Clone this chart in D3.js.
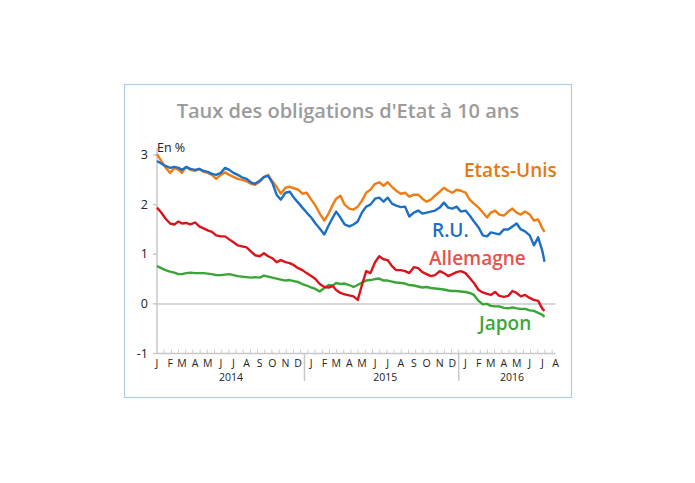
<!DOCTYPE html>
<html lang="fr">
<head>
<meta charset="utf-8">
<title>Taux des obligations d'Etat à 10 ans</title>
<script src="https://d3js.org/d3.v7.min.js"></script>
<style>
    body { margin: 0; background: white; }
    svg { display: block; font-family: "Open Sans", "Noto Sans", sans-serif; }
    .frame { fill: white; stroke: #a9cfee; stroke-width: 1.2; }
    .title { fill: #9b9b9b; font-size: 20px; font-weight: 600; }
    .axis-line { stroke: #c8c8c8; stroke-width: 1.5; }
    .tick-label { fill: #222; font-size: 12.5px; }
    .month { fill: #222; font-size: 10.5px; }
    .year { fill: #222; font-size: 10.5px; }
    .series { fill: none; stroke-width: 2.4; stroke-linejoin: round; }
    .series-label { font-size: 19px; font-weight: 600; }
</style>
</head>
<body>
<script>
// sampling grid: 1st, 11th and 21st of each month
var months = d3.timeMonth.range(new Date(2014, 0, 1), new Date(2016, 6, 1));
var dates = [];
months.forEach(function (m) {
    [1, 11, 21].forEach(function (d) { dates.push(new Date(m.getFullYear(), m.getMonth(), d)); });
});
dates.push(new Date(2016, 6, 1), new Date(2016, 6, 6));

var etatsUnis = [
    3.02, 2.88, 2.75, 2.64, 2.74, 2.70, 2.64, 2.76, 2.70, 2.68,
    2.72, 2.66, 2.64, 2.60, 2.52, 2.60, 2.65, 2.60, 2.56, 2.52,
    2.50, 2.47, 2.42, 2.40, 2.46, 2.55, 2.60, 2.47, 2.36, 2.22,
    2.34, 2.36, 2.33, 2.30, 2.22, 2.24, 2.10, 1.98, 1.82, 1.68,
    1.82, 2.00, 2.12, 2.18, 2.00, 1.92, 1.90, 1.96, 2.08, 2.24,
    2.30, 2.42, 2.45, 2.38, 2.45, 2.36, 2.28, 2.22, 2.24, 2.16,
    2.20, 2.20, 2.12, 2.06, 2.10, 2.18, 2.26, 2.34, 2.28, 2.24,
    2.30, 2.28, 2.24, 2.10, 2.02, 1.94, 1.84, 1.74, 1.84, 1.88,
    1.80, 1.78, 1.86, 1.92, 1.84, 1.80, 1.86, 1.80, 1.68, 1.70,
    1.52, 1.45
];
var royaumeUni = [
    2.88, 2.83, 2.78, 2.74, 2.76, 2.74, 2.70, 2.76, 2.72, 2.70,
    2.72, 2.68, 2.66, 2.62, 2.60, 2.64, 2.74, 2.70, 2.64, 2.60,
    2.55, 2.52, 2.45, 2.42, 2.48, 2.56, 2.58, 2.44, 2.20, 2.10,
    2.24, 2.26, 2.14, 2.04, 1.94, 1.84, 1.74, 1.62, 1.52, 1.40,
    1.58, 1.74, 1.86, 1.74, 1.60, 1.56, 1.60, 1.66, 1.84, 1.96,
    2.00, 2.12, 2.14, 2.06, 2.14, 2.02, 1.98, 1.95, 1.96, 1.76,
    1.84, 1.88, 1.82, 1.84, 1.86, 1.88, 1.94, 2.04, 1.94, 1.92,
    1.96, 1.86, 1.88, 1.78, 1.66, 1.54, 1.38, 1.36, 1.44, 1.42,
    1.40, 1.50, 1.50, 1.56, 1.62, 1.50, 1.46, 1.38, 1.18, 1.34,
    1.06, 0.85
];
var allemagne = [
    1.94, 1.84, 1.72, 1.62, 1.60, 1.66, 1.62, 1.63, 1.60, 1.64,
    1.56, 1.52, 1.48, 1.45, 1.38, 1.36, 1.36, 1.30, 1.24, 1.18,
    1.16, 1.14, 1.06, 0.98, 0.96, 1.02, 0.96, 0.92, 0.84, 0.88,
    0.84, 0.82, 0.78, 0.72, 0.68, 0.62, 0.56, 0.50, 0.40, 0.34,
    0.33, 0.36, 0.28, 0.22, 0.19, 0.17, 0.15, 0.08, 0.38, 0.66,
    0.62, 0.84, 0.96, 0.90, 0.88, 0.76, 0.68, 0.68, 0.66, 0.62,
    0.74, 0.72, 0.64, 0.60, 0.56, 0.58, 0.66, 0.62, 0.56, 0.60,
    0.64, 0.66, 0.62, 0.52, 0.42, 0.28, 0.23, 0.20, 0.18, 0.24,
    0.16, 0.14, 0.16, 0.26, 0.22, 0.15, 0.18, 0.12, 0.08, 0.06,
    -0.10, -0.14
];
var japon = [
    0.76, 0.72, 0.68, 0.65, 0.63, 0.60, 0.60, 0.62, 0.63, 0.62,
    0.62, 0.62, 0.61, 0.60, 0.58, 0.58, 0.59, 0.60, 0.58, 0.56,
    0.55, 0.54, 0.53, 0.54, 0.53, 0.57, 0.55, 0.53, 0.51, 0.49,
    0.47, 0.48, 0.46, 0.44, 0.40, 0.37, 0.33, 0.30, 0.25, 0.32,
    0.38, 0.37, 0.42, 0.40, 0.41, 0.38, 0.34, 0.38, 0.43, 0.47,
    0.48, 0.50, 0.51, 0.47, 0.47, 0.45, 0.43, 0.42, 0.41, 0.38,
    0.37, 0.35, 0.33, 0.34, 0.32, 0.31, 0.30, 0.29, 0.27, 0.26,
    0.26, 0.25, 0.24, 0.22, 0.18, 0.06, -0.01, 0.00, -0.04, -0.05,
    -0.05, -0.08, -0.09, -0.07, -0.09, -0.10, -0.10, -0.13, -0.14, -0.18,
    -0.22, -0.26
];

var yTicks = [3, 2, 1, 0, -1];
var monthLetters = ["J", "F", "M", "A", "M", "J", "J", "A", "S", "O", "N", "D"];
var years = [2014, 2015, 2016];

var series = [
    { name: "Etats-Unis", values: etatsUnis, line: "#ef7d14", text: "#e8770e", lx: 464, ly: 177 },
    { name: "R.U.", values: royaumeUni, line: "#1b6fc6", text: "#1b6fc6", lx: 432, ly: 237 },
    { name: "Japon", values: japon, line: "#3aa537", text: "#3ea53a", lx: 479, ly: 330 },
    { name: "Allemagne", values: allemagne, line: "#d9141c", text: "#e5534b", lx: 429, ly: 265 }
];

var W = 695, H = 483;
var svg = d3.select("body").append("svg").attr("width", W).attr("height", H);

svg.append("rect").attr("class", "frame")
    .attr("x", 124.5).attr("y", 84.5).attr("width", 447).attr("height", 313);

svg.append("text").attr("class", "title")
    .attr("x", 348).attr("y", 118).attr("text-anchor", "middle")
    .text("Taux des obligations d'Etat à 10 ans");

var x = d3.scaleTime()
    .domain([new Date(2014, 0, 1), new Date(2016, 7, 1)])
    .range([157, 555.5]);
var y = d3.scaleLinear().domain([-1, 3]).range([353.5, 155]);

// y axis
svg.append("line").attr("class", "axis-line")
    .attr("x1", 157).attr("x2", 157).attr("y1", 148).attr("y2", y(-1));
svg.selectAll(".ytick").data(yTicks).enter().append("line")
    .attr("class", "axis-line")
    .attr("x1", 153).attr("x2", 157)
    .attr("y1", d => y(d)).attr("y2", d => y(d));
svg.selectAll(".ylab").data(yTicks).enter().append("text")
    .attr("class", "tick-label")
    .attr("x", 148).attr("y", d => y(d) + 4)
    .attr("text-anchor", "end")
    .text(d => d);
svg.append("text").attr("class", "tick-label")
    .attr("x", 157).attr("y", 152).text("En %");

// zero line and bottom axis
svg.append("line").attr("class", "axis-line")
    .attr("x1", 157).attr("x2", 555.5).attr("y1", y(0)).attr("y2", y(0));
svg.append("line").attr("class", "axis-line")
    .attr("x1", 157).attr("x2", 555.5).attr("y1", y(-1)).attr("y2", y(-1));

var smallTicks = d3.timeDay.range(new Date(2014, 0, 18), new Date(2016, 7, 2), 17);
svg.selectAll(".xtick").data(smallTicks).enter().append("line")
    .attr("stroke", "#cccccc").attr("stroke-width", 1)
    .attr("x1", d => x(d)).attr("x2", d => x(d))
    .attr("y1", y(-1)).attr("y2", y(-1) - 4);

var monthStarts = d3.timeMonth.range(new Date(2014, 0, 1), new Date(2016, 7, 2));
svg.selectAll(".month").data(monthStarts).enter().append("text")
    .attr("class", "month")
    .attr("x", d => x(d)).attr("y", 367)
    .attr("text-anchor", "middle")
    .text(d => monthLetters[d.getMonth()]);

var yearPos = [new Date(2014, 5, 25), new Date(2015, 5, 25), new Date(2016, 3, 20)];
svg.selectAll(".year").data(years).enter().append("text")
    .attr("class", "year")
    .attr("x", (d, i) => x(yearPos[i])).attr("y", 381)
    .attr("text-anchor", "middle")
    .text(d => d);

var separators = [new Date(2014, 11, 16), new Date(2015, 11, 16)];
svg.selectAll(".sep").data(separators).enter().append("line")
    .attr("stroke", "#c8c8c8").attr("stroke-width", 1.5)
    .attr("x1", d => x(d)).attr("x2", d => x(d))
    .attr("y1", y(-1)).attr("y2", 381);

// series
var line = d3.line()
    .x((d, i) => x(dates[i]))
    .y(d => y(d));

svg.selectAll(".series").data(series).enter().append("path")
    .attr("class", "series")
    .attr("stroke", d => d.line)
    .attr("d", d => line(d.values));

svg.selectAll(".series-label").data(series).enter().append("text")
    .attr("class", "series-label")
    .attr("x", d => d.lx).attr("y", d => d.ly)
    .attr("fill", d => d.text)
    .text(d => d.name);
</script>
</body>
</html>
